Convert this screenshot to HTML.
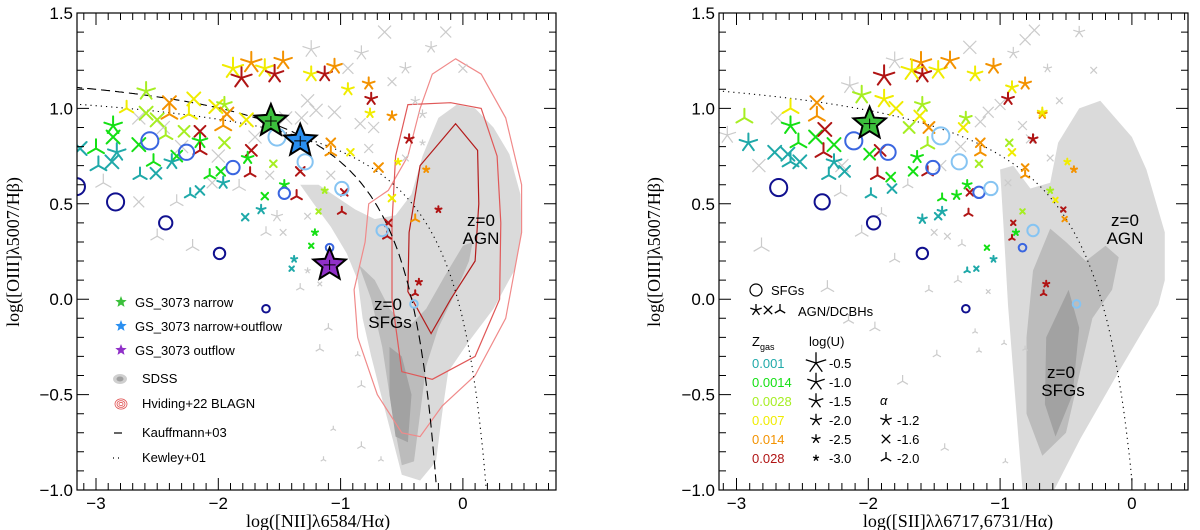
<!DOCTYPE html>
<html><head><meta charset="utf-8"><style>
html,body{margin:0;padding:0;background:#fff;}
svg{display:block;}
text{font-family:"Liberation Sans",sans-serif;}
.serif{font-family:"Liberation Serif",serif;}
</style></head><body>
<svg id="fig" width="1200" height="530" viewBox="0 0 1200 530" xmlns="http://www.w3.org/2000/svg">
<defs>
<clipPath id="clipL"><rect x="77" y="13" width="479" height="477"/></clipPath>
<clipPath id="clipR"><rect x="719" y="13" width="469" height="477"/></clipPath>
</defs>
</svg>
<script>
// ---------- data ----------
const metalLabels = ['0.001','0.0014','0.0028','0.007','0.014','0.028'];
const metalColors = ['#1fa9a9','#14e014','#a6ee22','#f0ec00','#f39200','#b01414'];
const circleColors = ['#10108f','#3a66e0','#86c4f2'];
const bigStarColors = ['#3cc03c','#2a8ff0','#9030c8'];
const xTicksL = [-3,-2,-1,0];
const xTicksR = [-3,-2,-1,0];
const yTicks = [1.5,1.0,0.5,0.0,-0.5,-1.0];
const yTickLabels = ['1.5','1.0','0.5','0.0','\u22120.5','\u22121.0'];
const xTickLabels = ['\u22123','\u22122','\u22121','0'];
const logULabels = ['-0.5','-1.0','-1.5','-2.0','-2.5','-3.0'];
const logUValues = [-0.5,-1.0,-1.5,-2.0,-2.5,-3.0];
const alphaLabels = ['-1.2','-1.6','-2.0'];

// SDSS regions (data coords)
const sdssLightL = [[-1.33,0.60],[-1.22,0.50],[-1.08,0.38],[-0.95,0.24],[-0.86,0.1],[-0.82,-0.1],[-0.75,-0.3],[-0.67,-0.5],[-0.58,-0.72],[-0.5,-0.92],[-0.35,-0.95],[-0.22,-0.85],[-0.17,-0.6],[-0.12,-0.38],[0.05,-0.22],[0.25,-0.05],[0.42,0.15],[0.48,0.35],[0.47,0.55],[0.38,0.76],[0.25,0.9],[0.1,1.0],[-0.05,1.02],[-0.2,0.95],[-0.33,0.75],[-0.42,0.55],[-0.55,0.44],[-0.72,0.42],[-0.88,0.47],[-1.02,0.53],[-1.18,0.6]];
const sdssMidL = [[-0.85,0.18],[-0.75,0.0],[-0.66,-0.25],[-0.6,-0.5],[-0.55,-0.7],[-0.5,-0.87],[-0.4,-0.85],[-0.35,-0.6],[-0.3,-0.35],[-0.2,-0.15],[-0.05,0.05],[0.05,0.2],[0.08,0.3],[0.0,0.28],[-0.15,0.12],[-0.3,-0.05],[-0.45,-0.15],[-0.6,-0.05],[-0.72,0.1]];
const sdssDarkL = [[-0.6,-0.25],[-0.5,-0.3],[-0.42,-0.5],[-0.45,-0.75],[-0.55,-0.72],[-0.6,-0.5]];
const blagnOuter = [[-0.06,1.26],[0.15,1.18],[0.35,0.95],[0.48,0.6],[0.48,0.35],[0.35,-0.1],[0.1,-0.4],[-0.17,-0.56],[-0.35,-0.72],[-0.5,-0.7],[-0.7,-0.5],[-0.86,-0.2],[-0.89,0.05],[-0.8,0.3],[-0.77,0.5],[-0.61,0.57],[-0.45,0.75],[-0.35,1.0],[-0.25,1.18]];
const blagnMiddle = [[-0.45,1.02],[-0.1,1.03],[0.15,1.0],[0.28,0.75],[0.31,0.4],[0.3,0.0],[0.1,-0.3],[-0.25,-0.42],[-0.5,-0.38],[-0.58,0.0],[-0.58,0.4],[-0.55,0.75]];
const blagnInner = [[-0.06,0.92],[0.12,0.78],[0.13,0.5],[0.1,0.2],[-0.1,0.0],[-0.26,-0.18],[-0.45,0.04],[-0.44,0.35],[-0.35,0.7]];
const sdssLightR = [[-0.24,1.04],[0.0,0.85],[0.11,0.68],[0.25,0.35],[0.25,0.1],[0.2,-0.03],[-0.1,-0.38],[-0.39,-0.73],[-0.59,-1.0],[-0.83,-1.0],[-0.88,-0.56],[-0.94,-0.03],[-0.97,0.33],[-1.0,0.68],[-0.9,0.70],[-0.77,0.58],[-0.62,0.61],[-0.56,0.82],[-0.4,1.0]];
const sdssMidR = [[-0.62,0.37],[-0.5,0.3],[-0.35,0.2],[-0.2,0.28],[-0.1,0.22],[-0.15,0.05],[-0.3,-0.1],[-0.4,-0.4],[-0.5,-0.7],[-0.68,-0.82],[-0.8,-0.6],[-0.8,-0.2],[-0.75,0.15]];
const sdssDarkR = [[-0.48,0.05],[-0.4,-0.15],[-0.45,-0.5],[-0.58,-0.72],[-0.66,-0.55],[-0.65,-0.2]];

// models: [x, y, metallicity index, alpha type, logU]
const modelsL = [[-1.73,1.24,4,'a',-0.5],[-1.47,1.25,4,'a',-1.0],[-1.88,1.21,3,'a',-0.5],[-1.62,1.21,3,'a',-1.0],[-1.81,1.16,5,'a',-0.5],[-1.54,1.18,5,'a',-1.0],[-1.24,1.18,3,'a',-1.5],[-1.13,1.18,5,'a',-1.5],[-1.05,1.22,4,'a',-1.5],[-0.94,1.10,3,'a',-2.0],[-0.77,1.13,4,'a',-2.0],[-0.75,1.05,5,'a',-2.0],[-0.76,0.975,3,'a',-2.5],[-0.58,0.96,4,'a',-2.5],[-0.44,0.84,5,'a',-2.5],[-0.53,0.72,3,'a',-3.0],[-0.30,0.68,4,'a',-3.0],[-0.20,0.47,5,'a',-3.0],[-0.36,0.09,5,'a',-3.0],
[-0.69,0.69,4,'x',-2.0],[-0.58,0.53,3,'x',-2.5],[-0.61,0.40,5,'x',-2.5],[-0.39,0.42,4,'y',-2.5],[-0.62,0.33,5,'y',-2.5],[-0.39,0.03,5,'y',-3.0],
[-2.59,1.09,2,'a',-1.0],[-2.59,0.975,2,'x',-1.0],[-2.40,1.03,4,'x',-1.0],[-2.20,1.05,3,'x',-1.0],[-2.02,1.01,3,'x',-1.0],[-1.95,1.02,2,'a',-1.5],[-1.93,0.97,4,'x',-1.0],[-1.96,0.91,4,'y',-1.0],[-2.24,0.97,3,'y',-1.0],[-2.75,1.0,3,'y',-1.5],[-2.40,0.97,4,'y',-1.0],[-2.50,0.94,2,'x',-1.0],[-1.77,0.94,3,'x',-1.0],
[-2.86,0.91,1,'a',-1.0],[-2.86,0.85,1,'x',-1.0],[-3.0,0.79,1,'y',-1.0],[-3.13,0.79,0,'x',-1.0],[-2.83,0.77,0,'a',-1.0],[-2.87,0.72,0,'x',-1.0],[-2.65,0.81,1,'x',-1.0],[-2.43,0.86,2,'y',-1.5],[-2.28,0.88,2,'x',-1.5],[-2.15,0.83,1,'a',-1.5],[-2.15,0.88,5,'x',-1.5],[-2.15,0.78,5,'y',-1.5],[-2.34,0.75,1,'x',-1.5],[-2.38,0.72,0,'a',-1.5],[-2.53,0.72,1,'y',-1.5],[-2.51,0.66,0,'x',-1.5],[-2.64,0.65,0,'y',-1.5],[-2.98,0.70,0,'y',-1.0],[-1.95,0.82,2,'x',-1.5],[-1.98,0.67,1,'x',-2.0],[-2.07,0.65,1,'y',-2.0],[-1.96,0.61,0,'a',-2.0],[-2.15,0.57,0,'x',-2.0],[-2.23,0.55,0,'y',-2.0],[-1.73,0.78,5,'x',-1.5],[-1.76,0.74,1,'a',-2.0],[-1.74,0.66,5,'y',-2.0],[-1.55,0.71,2,'x',-2.5],[-1.46,0.60,1,'a',-2.5],[-1.62,0.54,1,'x',-2.5],[-1.65,0.47,0,'a',-2.5],[-1.78,0.43,0,'x',-2.5],[-1.33,0.67,5,'x',-2.0],[-1.36,0.54,5,'y',-2.0],[-1.13,0.57,2,'a',-3.0],[-1.18,0.46,2,'x',-3.0],[-0.99,0.46,5,'y',-2.5],[-0.97,0.56,5,'x',-2.5],[-1.08,0.82,4,'x',-2.0],[-1.08,0.77,4,'y',-2.0],[-0.92,0.77,3,'x',-2.5],[-1.21,0.35,1,'a',-3.0],[-1.24,0.28,1,'x',-3.0],[-1.38,0.21,0,'a',-3.0],[-1.40,0.16,0,'x',-3.0]];

const modelsR = [[-1.88,1.17,5,'a',-0.5],[-1.60,1.24,4,'a',-0.5],[-1.59,1.18,5,'a',-1.0],[-1.67,1.20,3,'a',-0.5],[-1.47,1.20,3,'a',-1.0],[-1.38,1.25,4,'a',-1.0],[-1.19,1.18,3,'a',-1.5],[-1.05,1.22,4,'a',-1.5],[-0.91,1.11,3,'a',-2.0],[-0.81,1.13,4,'a',-2.0],[-0.94,1.05,5,'a',-2.0],[-0.68,0.97,4,'a',-2.5],[-0.68,0.98,3,'a',-2.5],[-0.75,0.84,5,'a',-2.5],[-0.49,0.72,3,'a',-3.0],[-0.44,0.68,4,'a',-3.0],[-0.65,0.08,5,'a',-3.0],[-0.67,0.03,5,'y',-3.0],
[-2.05,1.07,2,'a',-1.0],[-1.88,1.05,3,'a',-1.0],[-1.79,1.0,3,'x',-1.0],[-1.59,1.02,2,'a',-1.5],[-1.61,0.96,3,'x',-1.5],[-1.69,0.90,2,'x',-1.5],[-2.39,1.03,4,'x',-1.0],[-2.39,0.96,4,'y',-1.0],[-2.59,1.0,3,'y',-1.0],[-2.94,0.95,2,'y',-1.0],[-2.91,0.82,0,'a',-1.0],[-2.59,0.91,1,'a',-1.0],[-2.40,0.85,1,'x',-1.0],[-2.53,0.82,1,'y',-1.0],[-2.33,0.89,5,'x',-1.0],[-2.34,0.77,5,'y',-1.0],[-1.91,0.78,5,'x',-1.5],[-2.26,0.81,1,'x',-1.0],[-2.71,0.77,0,'x',-1.0],[-2.61,0.76,0,'x',-1.0],[-2.52,0.72,0,'x',-1.0],[-2.59,0.72,0,'y',-1.0],[-2.26,0.72,0,'a',-1.5],[-2.18,0.67,0,'x',-1.5],[-2.30,0.65,0,'y',-1.5],[-1.99,0.76,1,'x',-1.5],[-1.54,0.90,4,'x',-1.5],[-1.55,0.81,2,'y',-1.5],[-1.28,0.90,3,'x',-2.0],[-1.63,0.745,1,'a',-2.0],[-1.66,0.67,1,'x',-2.0],[-1.55,0.665,5,'y',-2.0],[-1.93,0.65,5,'y',-1.5],[-1.83,0.64,1,'x',-2.0],[-1.82,0.58,0,'x',-2.0],[-1.98,0.55,0,'y',-2.0],[-1.59,0.42,0,'a',-2.5],[-1.26,0.95,2,'a',-2.0],[-1.15,0.82,4,'x',-2.0],[-1.15,0.77,4,'y',-2.0],[-1.16,0.71,2,'x',-2.5],[-1.25,0.60,1,'a',-2.5],[-1.33,0.545,1,'a',-2.5],[-1.23,0.56,5,'x',-2.5],[-1.24,0.45,5,'y',-2.5],[-1.44,0.53,1,'y',-2.5],[-1.47,0.435,0,'x',-2.5],[-1.44,0.46,0,'a',-2.5],[-1.25,0.15,0,'y',-3.0],[-1.18,0.16,0,'x',-3.0],[-1.10,0.27,1,'x',-3.0],[-1.05,0.21,0,'a',-3.0],[-0.93,0.82,2,'x',-2.5],[-0.91,0.77,3,'x',-2.5],[-0.81,0.69,4,'x',-2.5],[-0.81,0.65,4,'y',-2.5],[-0.62,0.57,2,'a',-3.0],[-0.58,0.52,3,'x',-3.0],[-0.52,0.47,5,'x',-3.0],[-0.51,0.42,4,'x',-3.0],[-0.83,0.46,2,'x',-3.0],[-0.90,0.40,5,'x',-3.0],[-0.91,0.32,5,'y',-3.0],[-0.88,0.35,1,'a',-3.0]];

// SFG circles: [x, y, colour index, logU]
const sfgL = [[-3.16,0.59,0,-0.5],[-2.84,0.51,0,-0.5],[-2.43,0.40,0,-1.5],[-1.99,0.24,0,-2.0],[-1.61,-0.05,0,-3.0],[-2.56,0.83,1,-0.5],[-2.26,0.77,1,-1.0],[-1.88,0.69,1,-1.5],[-1.46,0.555,1,-2.0],[-1.09,0.27,1,-3.0],[-1.52,0.85,2,-0.5],[-1.29,0.72,2,-1.0],[-0.99,0.58,2,-1.5],[-0.66,0.36,2,-2.0],[-0.40,-0.025,2,-3.0]];
const sfgR = [[-2.68,0.585,0,-0.5],[-2.35,0.51,0,-1.0],[-1.96,0.40,0,-1.5],[-1.59,0.24,0,-2.0],[-1.26,-0.05,0,-3.0],[-2.11,0.83,1,-0.5],[-1.85,0.77,1,-1.0],[-1.51,0.69,1,-1.5],[-1.16,0.56,1,-2.0],[-0.83,0.27,1,-3.0],[-1.45,0.856,2,-0.5],[-1.31,0.72,2,-1.0],[-1.07,0.58,2,-1.5],[-0.75,0.36,2,-2.0],[-0.42,-0.025,2,-3.0]];

// background grey models: [x, y, type, logU]
const greyL = [[-0.64,1.40,'x',-1.0],[-0.14,1.40,'x',-1.5],[-1.24,1.31,'a',-1.0],[-0.83,1.29,'a',-1.5],[-0.26,1.32,'a',-2.0],[-0.94,1.21,'x',-1.5],[-0.47,1.21,'a',-2.0],[0.0,1.21,'x',-2.0],[-0.58,1.14,'x',-2.0],[-0.39,1.04,'a',-2.5],[-1.27,1.04,'x',-1.0],[-1.20,0.99,'x',-1.0],[-1.32,0.95,'x',-1.0],[-1.05,0.98,'x',-1.0],[-0.84,0.92,'x',-1.5],[-0.73,0.90,'x',-1.5],[-0.33,0.97,'a',-2.5],[-0.77,0.79,'x',-2.0],[-0.33,0.82,'a',-3.0],[-0.47,0.74,'x',-2.5],[-1.08,0.65,'x',-2.0],[-2.05,0.61,'x',-1.5],[-1.83,0.59,'y',-1.5],[-1.58,0.65,'x',-2.0],[-1.52,0.435,'a',-2.0],[-1.47,0.35,'x',-2.5],[-1.61,0.35,'y',-2.0],[-2.21,0.275,'y',-1.5],[-2.34,0.51,'y',-1.5],[-2.94,0.61,'y',-1.0],[-2.65,0.51,'x',-1.5],[-1.33,0.06,'y',-2.5],[-1.17,0.08,'x',-3.0],[-1.27,0.15,'a',-3.0],[-1.10,-0.15,'y',-2.5],[-1.17,-0.26,'y',-2.5],[-0.86,-0.29,'y',-3.0],[-0.83,-0.45,'y',-2.5],[-1.06,-0.68,'y',-3.0],[-0.83,-0.77,'y',-2.5],[-0.67,-0.84,'y',-3.0],[-1.14,-0.84,'y',-3.0],[-2.50,0.33,'y',-1.5],[-1.27,0.435,'x',-2.5],[-2.45,0.9,'x',-1.0],[-2.3,0.8,'x',-1.0],[-2.0,0.75,'x',-1.0],[-2.65,0.95,'x',-1.0],[-1.45,0.95,'x',-1.0],[-1.7,0.85,'x',-1.0]];
const greyR = [[-0.74,1.41,'x',-1.5],[-0.40,1.40,'a',-2.0],[-0.81,1.36,'x',-1.5],[-1.23,1.32,'x',-1.0],[-0.90,1.29,'a',-2.0],[-0.64,1.21,'a',-2.5],[-0.29,1.20,'x',-2.5],[-0.55,1.04,'x',-2.5],[-0.83,0.91,'x',-2.0],[-1.09,0.98,'x',-1.5],[-1.0,1.02,'x',-1.5],[-1.15,0.93,'x',-1.5],[-0.77,0.84,'x',-2.0],[-0.62,0.74,'x',-2.5],[-0.94,0.61,'x',-2.5],[-1.80,1.25,'a',-1.0],[-2.14,1.12,'a',-1.0],[-2.69,0.95,'x',-1.0],[-2.83,0.70,'x',-1.0],[-3.07,0.86,'a',-1.0],[-2.21,0.56,'y',-1.5],[-2.05,0.35,'y',-1.5],[-1.80,0.21,'y',-2.0],[-2.81,0.275,'y',-1.0],[-1.50,0.35,'x',-2.5],[-1.40,0.33,'x',-2.5],[-1.29,0.29,'y',-2.5],[-2.31,0.06,'y',-1.5],[-1.54,0.05,'y',-2.5],[-1.32,0.10,'y',-2.5],[-1.09,0.04,'x',-3.0],[-2.15,-0.11,'y',-2.0],[-1.95,-0.15,'y',-2.0],[-1.19,-0.17,'y',-3.0],[-1.16,-0.27,'y',-3.0],[-1.48,-0.29,'y',-2.5],[-0.97,-0.23,'y',-3.0],[-1.74,-0.43,'y',-2.0],[-1.42,-0.78,'y',-2.5],[-0.96,-0.85,'y',-3.0],[-0.81,-0.26,'y',-3.0],[-1.7,0.6,'y',-2.0],[-1.9,0.45,'y',-2.0],[-1.3,0.8,'x',-1.5],[-1.45,0.7,'x',-1.5],[-2.0,0.9,'x',-1.0],[-2.2,0.7,'x',-1.0]];

// GS_3073: [x, y, colour index]
const bigStarsL = [[-1.57,0.934,0],[-1.33,0.83,1],[-1.09,0.18,2]];
const bigStarsR = [[-1.99,0.92,0]];

// ---------- drawing ----------
const NS = 'http://www.w3.org/2000/svg';
const svg = document.getElementById('fig');
function mk(tag, attrs, parent){ const e=document.createElementNS(NS,tag); for(const k in attrs) e.setAttribute(k,attrs[k]); (parent||svg).appendChild(e); return e; }
function Y(y){ return 13 + (1.5 - y) * 190.8; }
function uSize(u){ return 3.2 + (u + 3) * 3.0; }
function cSize(u){ return 3.8 + (u + 3) * 1.9; }

function markerPath(cx, cy, type, r){
  let d=''; let angs;
  if(type==='a'){ angs=[0,1,2,3,4].map(k=>-90+72*k); }
  else if(type==='x'){ angs=[45,135,225,315]; }
  else { angs=[-90,30,150]; }
  angs.forEach(a=>{ const t=a*Math.PI/180; d+='M'+cx.toFixed(1)+' '+cy.toFixed(1)+'L'+(cx+r*Math.cos(t)).toFixed(1)+' '+(cy+r*Math.sin(t)).toFixed(1); });
  return d;
}
function starPts(cx, cy, R, r){
  const p=[]; for(let k=0;k<10;k++){ const a=(-90+36*k)*Math.PI/180; const rr=k%2?r:R; p.push((cx+rr*Math.cos(a)).toFixed(1)+','+(cy+rr*Math.sin(a)).toFixed(1)); } return p.join(' ');
}
function polyPath(pts, X){ return 'M'+pts.map(p=>X(p[0]).toFixed(1)+' '+Y(p[1]).toFixed(1)).join('L')+'Z'; }

function panel(cfg){
  const X = x => cfg.x0 + (x + 3) * cfg.sx;
  const g = mk('g', {'clip-path':'url(#'+cfg.clip+')'});
  
  
  [[cfg.light,'#dadada','light'],[cfg.mid,'#bcbcbc','mid'],[cfg.dark,'#a2a2a2','dark']].forEach(s=>{
    const p = mk('path',{d:polyPath(s[0],X),fill:s[1]},g);
    
    
  });
  if(cfg.contours){
    [[blagnOuter,'#f08a8a'],[blagnMiddle,'#e05858'],[blagnInner,'#b41c1c']].forEach((c,i)=>{
      const p = mk('path',{d:polyPath(c[0],X),fill:'none',stroke:c[1],'stroke-width':1.2},g);
      
      
    });
  }
  cfg.grey.forEach(q=>{
    const p = mk('path',{d:markerPath(X(q[0]),Y(q[1]),q[2],uSize(q[3])),stroke:'#cbcbcb','stroke-width':1.2,fill:'none'},g);
    
    
  });
  cfg.lines.forEach(L=>{
    let d=''; for(let x=-3.3; x<=L.xend; x+=0.01){ const y=L.f(x); if(y<-1.05) break; d+=(d?'L':'M')+X(x).toFixed(1)+' '+Y(y).toFixed(1); }
    const p = mk('path',{d:d,fill:'none',stroke:'#000','stroke-width':1.1,'stroke-dasharray':L.dash},g);
    
    
  });
  cfg.models.forEach(q=>{
    const p = mk('path',{d:markerPath(X(q[0]),Y(q[1]),q[3],uSize(q[4])),stroke:metalColors[q[2]],'stroke-width':2,fill:'none','stroke-linecap':'round'},g);
    
    
  });
  cfg.sfg.forEach(q=>{
    const c = mk('circle',{cx:X(q[0]),cy:Y(q[1]),r:cSize(q[3]),fill:'none',stroke:circleColors[q[2]],'stroke-width':2},g);
    
    
  });
  cfg.stars.forEach(q=>{
    const s = mk('polygon',{points:starPts(X(q[0]),Y(q[1]),17,7.5),fill:bigStarColors[q[2]],stroke:'#000','stroke-width':2},g);
    
    
    const e = mk('path',{d:'M'+(X(q[0])-6)+' '+Y(q[1])+'h12M'+X(q[0])+' '+(Y(q[1])-5)+'v10',stroke:'#000','stroke-width':1},g);
    
    
  });
  const fr = mk('rect',{x:cfg.bx0,y:13,width:cfg.bx1-cfg.bx0,height:477,fill:'none',stroke:'#000','stroke-width':1.2});
  
  
  let td='';
  for(let i=-33;i<=10;i++){ const x=i/10; const px=X(x); if(px<cfg.bx0+0.5||px>cfg.bx1-0.5) continue; const L=(i%10===0)?12:7; td+='M'+px.toFixed(1)+' 13v'+L+'M'+px.toFixed(1)+' 490v-'+L; }
  for(let i=-10;i<=15;i++){ const y=i/10; const py=Y(y); if(i===-10||i===15) continue; const L=(i%5===0)?12:7; td+='M'+cfg.bx0+' '+py.toFixed(1)+'h'+L+'M'+cfg.bx1+' '+py.toFixed(1)+'h-'+L; }
  const tk = mk('path',{d:td,stroke:'#000','stroke-width':1,fill:'none'});
  
  
  cfg.xticks.forEach((v,i)=>{
    const t = mk('text',{x:X(v),y:509,'text-anchor':'middle','font-size':17});
    t.textContent = xTickLabels[i];
    
    
  });
  yTicks.forEach((v,i)=>{
    const t = mk('text',{x:cfg.bx0-4,y:Y(v)+6,'text-anchor':'end','font-size':17});
    t.textContent = yTickLabels[i];
    
    
  });
  const xt = mk('text',{x:cfg.xtx,y:527,'text-anchor':'middle','font-size':18,class:'serif'});
  xt.textContent = cfg.xtitle;
  
  
  const yt = mk('text',{x:0,y:0,'text-anchor':'middle','font-size':18,class:'serif',transform:'translate('+cfg.ytx+',252) rotate(-90)'});
  yt.textContent = 'log([OIII]\u03bb5007/H\u03b2)';
  
  
  cfg.ann.forEach(a=>{
    const t = mk('text',{x:a[0],y:a[1],'text-anchor':'middle','font-size':17});
    t.textContent = a[2];
    
    
  });
  return X;
}

panel({name:'nii-panel',clip:'clipL',x0:96,sx:122.3,bx0:77,bx1:556,light:sdssLightL,mid:sdssMidL,dark:sdssDarkL,contours:true,
  grey:greyL,models:modelsL,sfg:sfgL,stars:bigStarsL,xticks:xTicksL,xtitle:'log([NII]\u03bb6584/H\u03b1)',xtx:318,ytx:19,
  lines:[{name:'kauffmann03-line',f:x=>0.61/(x-0.05)+1.3,xend:-0.215,dash:'9,5'},{name:'kewley01-line',f:x=>0.61/(x-0.47)+1.19,xend:0.19,dash:'1.2,4'}],
  ann:[[481,226,'z=0'],[481,244,'AGN'],[388,310,'z=0'],[390,328,'SFGs']]});
panel({name:'sii-panel',clip:'clipR',x0:736.5,sx:131.8,bx0:719,bx1:1188,light:sdssLightR,mid:sdssMidR,dark:sdssDarkR,contours:false,
  grey:greyR,models:modelsR,sfg:sfgR,stars:bigStarsR,xticks:xTicksR,xtitle:'log([SII]\u03bb\u03bb6717,6731/H\u03b1)',xtx:958,ytx:660,
  lines:[{name:'kewley01-sii-line',f:x=>0.72/(x-0.32)+1.30,xend:0.007,dash:'1.2,4'}],
  ann:[[1125,226,'z=0'],[1125,244,'AGN'],[1061,378,'z=0'],[1063,396,'SFGs']]});

// ---------- left legend ----------
const legL = [['GS_3073 narrow',0,303],['GS_3073 narrow+outflow',1,327],['GS_3073 outflow',2,351]];
legL.forEach(l=>{
  const s = mk('polygon',{points:starPts(121,l[2]-1,6,2.6),fill:bigStarColors[l[1]]});
  
  
  const t = mk('text',{x:135,y:l[2]+4,'font-size':13});
  t.textContent = l[0];
  
  
});
const sd1 = mk('ellipse',{cx:120,cy:379,rx:7,ry:5,fill:'#cfcfcf'});


const sd2 = mk('ellipse',{cx:120,cy:379,rx:3.5,ry:2.5,fill:'#a0a0a0'});


[6,4,2].forEach(r=>{
  const e = mk('ellipse',{cx:121,cy:404,rx:r,ry:r*0.85,fill:'none',stroke:'#e05050','stroke-width':0.8});
  
  
});
const kl = mk('path',{d:'M114 433h8',stroke:'#000','stroke-width':1.2});


const kw = mk('path',{d:'M113 458h1M118 458h1',stroke:'#000','stroke-width':1.2});


[['SDSS',383],['Hviding+22 BLAGN',408],['Kauffmann+03',437],['Kewley+01',462]].forEach(l=>{
  const t = mk('text',{x:142,y:l[1],'font-size':13});
  t.textContent = l[0];
  
  
});

// ---------- right legend ----------
const lc = mk('circle',{cx:756,cy:290,r:6,fill:'none',stroke:'#000','stroke-width':1.2});


const ls = mk('text',{x:771,y:295,'font-size':13}); ls.textContent='SFGs';


['a','x','y'].forEach((ty,i)=>{
  const p = mk('path',{d:markerPath(756+i*12,310,ty,6),stroke:'#000','stroke-width':1.3,fill:'none'});
  
  
});
const la = mk('text',{x:798,y:316,'font-size':13}); la.textContent='AGN/DCBHs';


const zg = mk('text',{x:752,y:346,'font-size':13}); zg.innerHTML='Z<tspan font-size="9" dy="4">gas</tspan>';


const lu = mk('text',{x:809,y:346,'font-size':13}); lu.textContent='log(U)';


const al = mk('text',{x:880,y:405,'font-size':13,'font-style':'italic'}); al.textContent='\u03b1';


metalLabels.forEach((m,i)=>{
  const yy = 368 + i*19;
  const t = mk('text',{x:752,y:yy,'font-size':13,fill:metalColors[i]}); t.textContent=m;
  
  
  const p = mk('path',{d:markerPath(816,yy-5,'a',uSize(logUValues[i])),stroke:'#000','stroke-width':1.3,fill:'none'});
  
  
  const u = mk('text',{x:829,y:yy,'font-size':13}); u.textContent=logULabels[i];
  
  
});
['a','x','y'].forEach((ty,i)=>{
  const yy = 425 + i*19;
  const p = mk('path',{d:markerPath(886,yy-5,ty,6),stroke:'#000','stroke-width':1.3,fill:'none'});
  
  
  const t = mk('text',{x:897,y:yy,'font-size':13}); t.textContent=alphaLabels[i];
  
  
});
</script>
</body></html>
